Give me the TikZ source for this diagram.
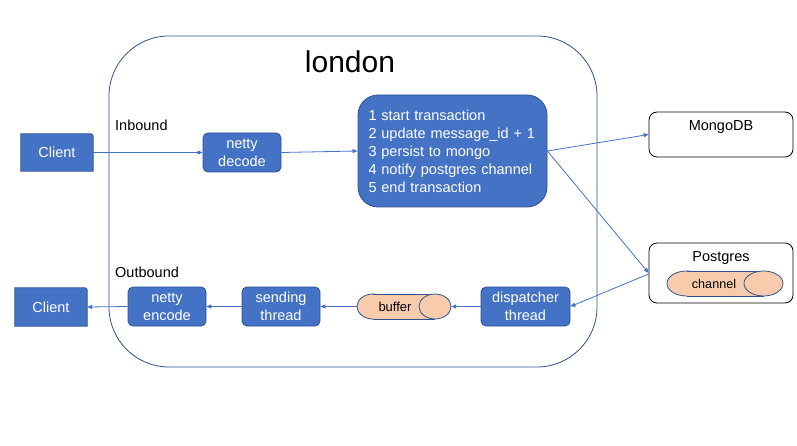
\documentclass[tikz,border=0pt]{standalone}
\usepackage{fontspec}
\setmainfont{Liberation Sans}
\usetikzlibrary{arrows.meta,backgrounds}
\definecolor{bfill}{HTML}{4472C4}
\definecolor{bdraw}{HTML}{2F528F}
\definecolor{peach}{HTML}{F8CBAD}
\begin{document}
\begin{tikzpicture}[x=1pt,y=-1pt,
  txt/.style={font=\fontsize{14.5}{18}\selectfont},
  bluebox/.style={draw=bdraw, fill=bfill, rounded corners=5pt, text=white, txt, align=center, inner sep=0pt, line width=0.8pt},
  clientbox/.style={text=white, txt, inner sep=0pt},
  dbbox/.style={draw=black, fill=white, rounded corners=8pt, inner sep=0pt, line width=0.8pt},
  cylframe/.style={inner sep=0pt},
  cylline/.style={draw=bdraw, line width=0.8pt},
  conn/.style={draw=bfill, line width=0.8pt, -{Triangle[length=5pt,width=4pt]}},
  lbl/.style={txt, text=black, inner sep=0pt}
]
\useasboundingbox (0,0) rectangle (797,446);
% london container
\draw[draw=bdraw, line width=0.8pt, rounded corners=60pt] (109,36) rectangle (597,367);
\node[font=\fontsize{30}{36}\selectfont, inner sep=0pt] (london) at (350,62) {london};
\node[lbl, anchor=west] (inb) at (115,125) {Inbound};
\node[lbl, anchor=west] (outb) at (115,272) {Outbound};

% clients
\node[clientbox, minimum width=72pt, minimum height=37pt] (c1) at (57,152.5) {Client};
\node[clientbox, minimum width=72pt, minimum height=38pt] (c2) at (51,307) {Client};
\begin{scope}[on background layer]
\path[fill=white] (0,0) rectangle (797,446);
\foreach \c in {c1,c2}{
  \draw[draw=bdraw, fill=bfill, line width=0.8pt] (\c.south west) -- (\c.north west) -- ([xshift=-5pt]\c.north east) .. controls (\c.north east) .. ([yshift=-5pt]\c.north east) -- (\c.south east) -- cycle;
}
\end{scope}

\node[bluebox, minimum width=78pt, minimum height=39pt] (dec) at (242,152.5) {netty\\decode};
\node[bluebox, rounded corners=20pt, minimum width=189pt, minimum height=112pt, align=left, text width=168pt, inner xsep=0pt] (tx) at (452.5,151) {1 start transaction\\2 update message\_id + 1\\3 persist to mongo\\4 notify postgres channel\\5 end transaction};

\node[dbbox, minimum width=144pt, minimum height=45pt, label={[lbl, anchor=north, yshift=-9pt]north:MongoDB}] (mongo) at (721,134.5) {};
\node[dbbox, minimum width=144pt, minimum height=60pt, label={[lbl, anchor=north, yshift=-9pt]north:Postgres}] (pg) at (721,273) {};

% channel cylinder
\node[cylframe, minimum width=116pt, minimum height=25pt] (chan) at (725,283.5) {};
\fill[peach, cylline] (686.5,283.5) ellipse [x radius=19.5, y radius=12.5];
\fill[peach] (686.5,271) rectangle (763.5,296);
\draw[cylline] (686.5,271) -- (763.5,271) (686.5,296) -- (763.5,296);
\filldraw[fill=peach, cylline] (763.5,283.5) ellipse [x radius=19.5, y radius=12.5];
\node[font=\fontsize{12.6}{15}\selectfont, inner sep=0pt] (chanl) at (714,283.5) {channel};

\node[bluebox, minimum width=78pt, minimum height=39pt] (enc) at (167,306.5) {netty\\encode};
\node[bluebox, minimum width=78pt, minimum height=39pt] (snd) at (281,306.5) {sending\\thread};

% buffer cylinder
\node[cylframe, minimum width=94pt, minimum height=25pt] (buf) at (404,306.5) {};
\filldraw[fill=peach, cylline] (373,306.5) ellipse [x radius=16, y radius=12.5];
\fill[peach] (373,294) rectangle (435,319);
\draw[cylline] (373,294) -- (435,294) (373,319) -- (435,319);
\filldraw[fill=peach, cylline] (435,306.5) ellipse [x radius=16, y radius=12.5];
\node[font=\fontsize{13}{15}\selectfont, inner sep=0pt] (bufl) at (395,306.5) {buffer};

\node[bluebox, minimum width=89pt, minimum height=39pt] (disp) at (525.5,306.5) {dispatcher\\thread};

% connectors
\draw[conn] (c1.east) -- (dec.west);
\draw[conn] (dec.east) -- (tx.west);
\draw[conn] (tx.east) -- (mongo.west);
\draw[conn] (tx.east) -- (pg.west);
\draw[conn] ([yshift=-1pt]pg.west) -- (disp.east);
\draw[conn] (disp.west) -- (buf.east);
\draw[conn] (buf.west) -- (snd.east);
\draw[conn] (snd.west) -- (enc.east);
\draw[conn] (enc.west) -- (c2.east);
\end{tikzpicture}
\end{document}
